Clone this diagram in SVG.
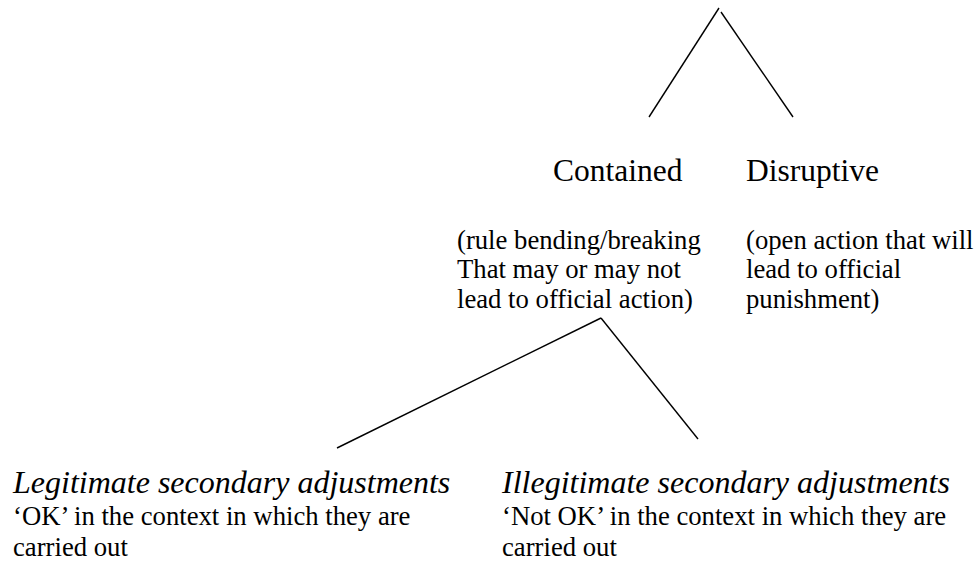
<svg xmlns="http://www.w3.org/2000/svg" width="979" height="563" viewBox="0 0 979 563">
<style>
.h{font-family:"Liberation Serif","Times New Roman",serif;font-size:31.5px;fill:#000}
.s{font-family:"Liberation Serif","Times New Roman",serif;font-size:26.7px;fill:#000}
.i{font-family:"Liberation Serif","Times New Roman",serif;font-size:32px;font-style:italic;fill:#000}
.c line{stroke:#000;stroke-width:1.4;fill:none}
</style>
<rect width="979" height="563" fill="#fff"/>
<g class="c" id="connectors">
<line x1="719" y1="8" x2="649" y2="117"/>
<line x1="721" y1="12" x2="793" y2="117"/>
<line x1="601" y1="318" x2="337" y2="448"/>
<line x1="601" y1="318" x2="698" y2="439"/>
</g>
<g id="contained">
<text class="h" x="553" y="181">Contained</text>
<text class="s" x="457" y="249">(rule bending/breaking</text>
<text class="s" x="457" y="278">That may or may not</text>
<text class="s" x="457" y="308">lead to official action)</text>
</g>
<g id="disruptive">
<text class="h" x="746" y="181">Disruptive</text>
<text class="s" x="746" y="249">(open action that will</text>
<text class="s" x="746" y="278">lead to official</text>
<text class="s" x="746" y="308">punishment)</text>
</g>
<g id="legitimate">
<text class="i" x="13" y="493">Legitimate secondary adjustments</text>
<text class="s" x="13" y="525">‘OK’ in the context in which they are</text>
<text class="s" x="13" y="556">carried out</text>
</g>
<g id="illegitimate">
<text class="i" x="502" y="493">Illegitimate secondary adjustments</text>
<text class="s" x="502" y="525">‘Not OK’ in the context in which they are</text>
<text class="s" x="502" y="556">carried out</text>
</g>
</svg>
